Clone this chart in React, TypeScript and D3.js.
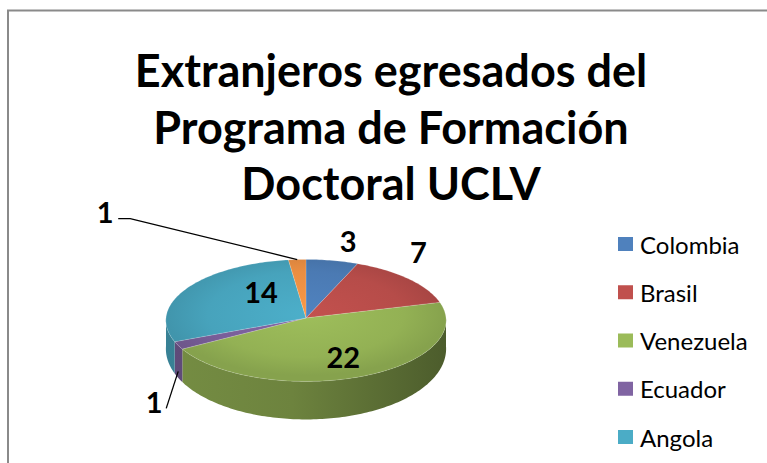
import React from 'react';
import * as d3 from 'd3';

// ---------- data ----------
const categories = ['Colombia', 'Brasil', 'Venezuela', 'Ecuador', 'Angola', 'Otro'];
const values = [3, 7, 22, 1, 14, 1];
const legendCategories = ['Colombia', 'Brasil', 'Venezuela', 'Ecuador', 'Angola'];
const colors = ['#4F81BD', '#C0504D', '#9BBB59', '#8064A2', '#4BACC6', '#F79646'];
const titleLines = ['Extranjeros egresados del', 'Programa de Formación', 'Doctoral UCLV'];

// ---------- layout ----------
const W = 767;
const H = 463;
const CX = 306;
const CY = 318;
const RX = 140;
const RY = 61;
const PERSP = 0.04;
const D0 = 28;
const D1 = 10;

// label placement: anchor on pie (radius factor, height factor) + offset
const labelLayout = [
  { r: 1, h: 0, dx: 16, dy: -20, leader: false },
  { r: 1, h: 0, dx: 10, dy: -27, leader: false },
  { r: 0.5, h: 0, dx: 10, dy: 10, leader: false },
  { r: 1, h: 0.8, dx: -24, dy: 30, leader: true },
  { r: 0.6, h: 0, dx: 27, dy: -8, leader: false },
  { r: 1, h: 0, dx: -192, dy: -48, leader: true },
];

function pt(theta: number, r = 1, h = 0): [number, number] {
  const u = Math.sin(theta);
  const v = -Math.cos(theta);
  const sc = 1 + PERSP * v * r;
  const x = CX + RX * u * r * sc;
  const y = CY + RY * v * r * sc + h * (D0 + D1 * v * r);
  return [x, y];
}

function arcPts(a0: number, a1: number, h: number): [number, number][] {
  const n = Math.max(2, Math.ceil(Math.abs(a1 - a0) / 0.02));
  return d3.range(n + 1).map((i) => pt(a0 + ((a1 - a0) * i) / n, 1, h));
}

const line = d3.line<[number, number]>();

export default function App() {
  const pie = d3
    .pie<number>()
    .sort(null)
    .startAngle(0)
    .endAngle(2 * Math.PI)(values);

  const legendY = d3
    .scalePoint<string>()
    .domain(legendCategories)
    .range([244, 437]);

  const titleY = d3.scalePoint<string>().domain(titleLines).range([70, 183]);

  return (
    <svg
      width={W}
      height={H}
      style={{ position: 'absolute', left: 0, top: 0, background: '#fff' }}
      fontFamily="Lato, 'Open Sans', sans-serif"
    >
      <defs>
        {colors.map((c, i) => {
          const col = d3.color(c)!;
          return (
            <React.Fragment key={i}>
              <radialGradient
                id={`top${i}`}
                gradientUnits="userSpaceOnUse"
                cx={CX}
                cy={CY - 8}
                r={RX}
                gradientTransform={`translate(${CX},${CY}) scale(1,${RY / RX}) translate(${-CX},${-CY})`}
              >
                <stop offset="0" stopColor={col.brighter(0.05).formatHex()} />
                <stop offset="0.7" stopColor={col.darker(0.15).formatHex()} />
                <stop offset="1" stopColor={col.darker(0.4).formatHex()} />
              </radialGradient>
              <linearGradient
                id={`side${i}`}
                gradientUnits="userSpaceOnUse"
                x1={CX - RX}
                x2={CX + RX}
                y1={0}
                y2={0}
              >
                <stop offset="0" stopColor={col.darker(0.8).formatHex()} />
                <stop offset="0.45" stopColor={col.darker(1.0).formatHex()} />
                <stop offset="1" stopColor={col.darker(2.0).formatHex()} />
              </linearGradient>
            </React.Fragment>
          );
        })}
      </defs>

      {/* frame */}
      <path d={`M8,${H + 5} L8,10.5 L${W + 5},10.5`} fill="none" stroke="#8a8a8a" strokeWidth={2} />

      {/* title */}
      {titleLines.map((t) => (
        <text
          key={t}
          x={391}
          y={titleY(t)}
          textAnchor="middle"
          dominantBaseline="central"
          fontWeight="bold"
          fontSize={45}
          fill="#000"
        >
          {t}
        </text>
      ))}

      {/* sides */}
      {pie.map((s, i) => {
        const a0 = Math.max(s.startAngle, Math.PI / 2);
        const a1 = Math.min(s.endAngle, (3 * Math.PI) / 2);
        if (a0 >= a1) return null;
        const pts = [...arcPts(a0, a1, 0), ...arcPts(a1, a0, 1)];
        return <path key={`s${i}`} d={line(pts)! + 'Z'} fill={`url(#side${i})`} />;
      })}

      {/* tops */}
      {pie.map((s, i) => {
        const pts: [number, number][] = [[CX, CY], ...arcPts(s.startAngle, s.endAngle, 0)];
        return (
          <path
            key={`t${i}`}
            d={line(pts)! + 'Z'}
            fill={`url(#top${i})`}
            stroke="rgba(255,255,255,0.25)"
            strokeWidth={0.6}
          />
        );
      })}

      {/* labels */}
      {pie.map((s, i) => {
        const L = labelLayout[i];
        const mid = (s.startAngle + s.endAngle) / 2;
        const [ax, ay] = pt(mid, L.r, L.h);
        const lx = ax + L.dx;
        const ly = ay + L.dy;
        let leaderPath: string | null = null;
        if (L.leader && i === 5) {
          leaderPath = `M${lx + 13},${ly + 7} L${lx + 25},${ly + 7} L${ax},${ay}`;
        } else if (L.leader && i === 3) {
          leaderPath = `M${lx + 12},${ly + 7} L${ax},${ay}`;
        }
        return (
          <g key={`l${i}`}>
            {leaderPath && <path d={leaderPath} fill="none" stroke="#000" strokeWidth={1.3} />}
            <text
              x={lx}
              y={ly}
              textAnchor="middle"
              dominantBaseline="central"
              fontWeight="bold"
              fontSize={29}
              fill="#000"
            >
              {values[i]}
            </text>
          </g>
        );
      })}

      {/* legend */}
      {legendCategories.map((c) => {
        const i = categories.indexOf(c);
        const y = legendY(c)!;
        return (
          <g key={c}>
            <rect x={618} y={y - 7} width={15} height={14} fill={colors[i]} />
            <text x={640} y={y} dominantBaseline="central" fontSize={24} fill="#000">
              {c}
            </text>
          </g>
        );
      })}
    </svg>
  );
}
